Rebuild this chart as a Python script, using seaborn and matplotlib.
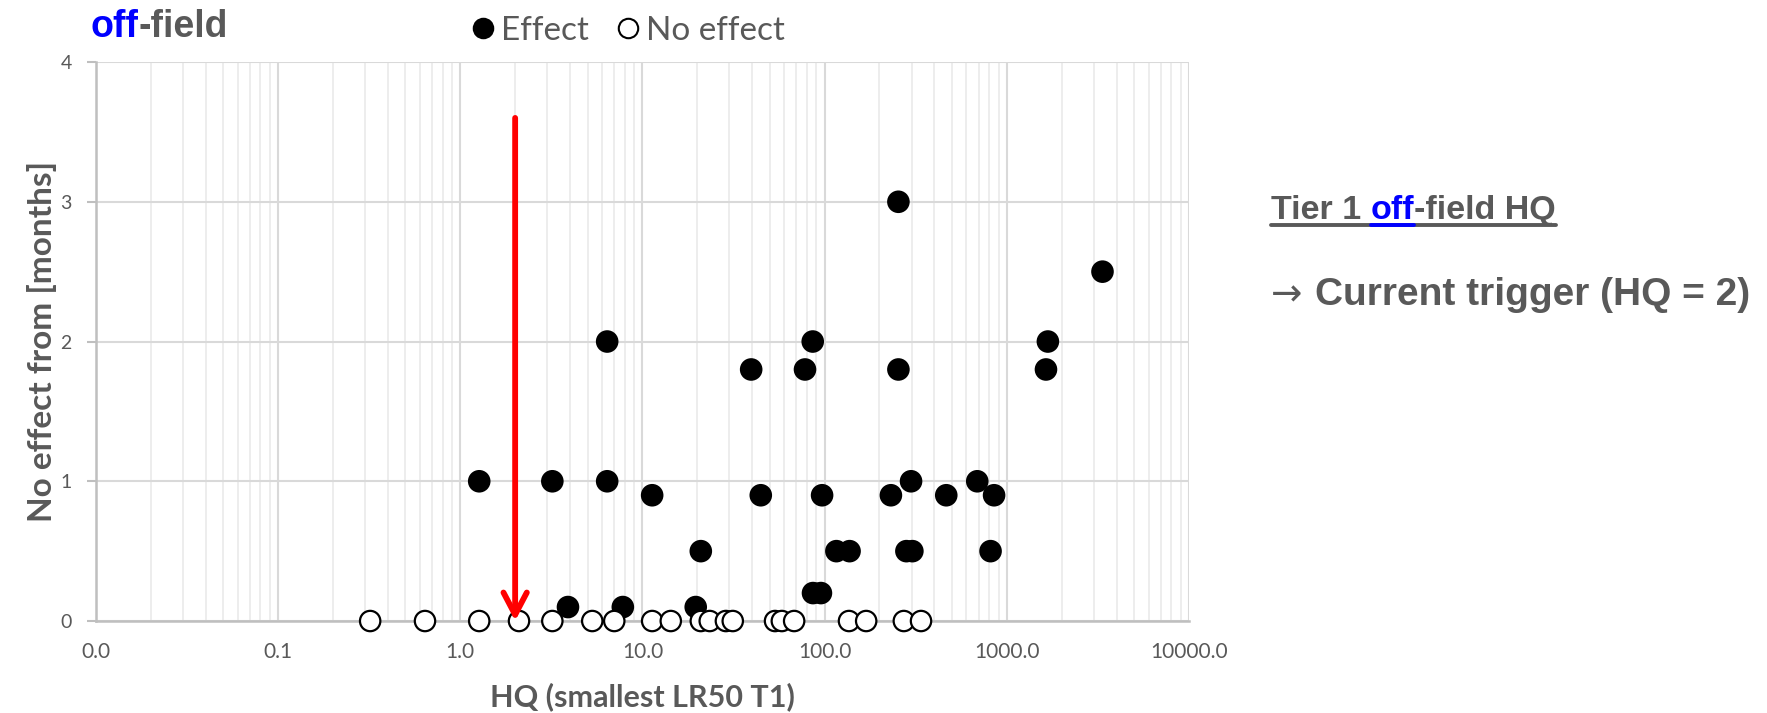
import numpy as np
import pandas as pd
import matplotlib
matplotlib.use('Agg')
import matplotlib.pyplot as plt
import seaborn as sns
from matplotlib.lines import Line2D
from matplotlib.ticker import LogLocator, FixedLocator, FixedFormatter, NullFormatter

# values
effect_hq = [254, 3350, 6.4, 86, 1680, 39.5, 78, 254, 1640,
             1.27, 3.2, 6.4, 298, 688,
             11.3, 44.6, 96.8, 231, 465, 851,
             20.9, 116, 137, 281, 303, 814,
             86.3, 95.4,
             3.9, 7.8, 19.6]
effect_months = [3, 2.5, 2, 2, 2, 1.8, 1.8, 1.8, 1.8,
                 1, 1, 1, 1, 1,
                 0.9, 0.9, 0.9, 0.9, 0.9, 0.9,
                 0.5, 0.5, 0.5, 0.5, 0.5, 0.5,
                 0.2, 0.2,
                 0.1, 0.1, 0.1]
no_effect_hq = [0.32, 0.64, 1.27, 2.1, 3.2, 5.3, 7.0, 11.3, 14.3, 20.9,
                23.4, 28.7, 31.3, 53.4, 58.2, 68, 136, 169, 272, 338]
no_effect_months = [0, 0, 0, 0, 0, 0, 0, 0, 0, 0,
                    0, 0, 0, 0, 0, 0, 0, 0, 0, 0]
x_ticks = [0.01, 0.1, 1, 10, 100, 1000, 10000]
x_tick_labels = ['0.0', '0.1', '1.0', '10.0', '100.0', '1000.0', '10000.0']
y_ticks = [0, 1, 2, 3, 4]
trigger_hq = 2
arrow_top = 3.6

grey = '#595959'
blue = '#0000FF'

sns.set_theme(style='white')
plt.rcParams['font.family'] = ['Lato', 'DejaVu Sans']

df = pd.concat([
    pd.DataFrame({'HQ': effect_hq, 'months': effect_months, 'status': 'Effect'}),
    pd.DataFrame({'HQ': no_effect_hq, 'months': no_effect_months, 'status': 'No effect'}),
], ignore_index=True)

fig = plt.figure(figsize=(17.67, 7.13), dpi=100)
ax = fig.add_axes([0.0543, 0.129, 0.6186, 0.784])

sns.scatterplot(data=df, x='HQ', y='months', hue='status',
                palette={'Effect': 'black', 'No effect': 'white'},
                edgecolor='black', linewidth=1.6, s=215, legend=False,
                ax=ax, clip_on=False, zorder=3)

ax.set_xscale('log')
ax.set_xlim(0.01, 10000)
ax.set_ylim(0, 4)
ax.xaxis.set_major_locator(FixedLocator(x_ticks))
ax.xaxis.set_major_formatter(FixedFormatter(x_tick_labels))
ax.xaxis.set_minor_locator(LogLocator(base=10, subs=np.arange(2, 10), numticks=50))
ax.xaxis.set_minor_formatter(NullFormatter())
ax.set_yticks(y_ticks)

ax.set_axisbelow(True)
ax.grid(which='major', axis='both', color='#d9d9d9', linewidth=1.5)
ax.grid(which='minor', axis='x', color='#ececec', linewidth=1.3)

for side in ['top', 'right']:
    ax.spines[side].set_visible(False)
for side in ['left', 'bottom']:
    ax.spines[side].set_color('#bfbfbf')
    ax.spines[side].set_linewidth(1.8)

ax.tick_params(axis='y', left=True, length=6.5, width=1.5, color='#bfbfbf',
               pad=11, labelsize=14, labelcolor=grey)
ax.tick_params(axis='x', which='both', bottom=False, length=0, pad=15,
               labelsize=15, labelcolor=grey)

ax.set_xlabel('HQ (smallest LR50 T1)', fontsize=22, fontweight='bold', color=grey)
ax.xaxis.set_label_coords(0.5, -0.11)
ax.set_ylabel('No effect from [months]', fontsize=24, fontweight='bold', color=grey)
ax.yaxis.set_label_coords(-0.036, 0.5)

# red trigger arrow
ax.annotate('', xy=(trigger_hq, 0), xytext=(trigger_hq, arrow_top),
            arrowprops=dict(arrowstyle='->, head_length=0.8, head_width=0.42',
                            color='red', lw=4.2, mutation_scale=20,
                            shrinkA=0, shrinkB=0),
            zorder=5, annotation_clip=False)

# title "off-field"
t_off = fig.text(0.051, 0.948, 'off', color=blue, fontsize=27, fontweight='bold',
                 family='Liberation Sans', va='baseline', ha='left')
ax.annotate('-field', xy=(1, 0), xycoords=t_off, va='bottom', ha='left',
            color=grey, fontsize=27, fontweight='bold', family='Liberation Sans')

# legend above the plot
handles = [
    Line2D([], [], marker='o', linestyle='', markersize=14, markerfacecolor='black',
           markeredgecolor='black', markeredgewidth=1.5, label='Effect'),
    Line2D([], [], marker='o', linestyle='', markersize=14, markerfacecolor='white',
           markeredgecolor='black', markeredgewidth=1.5, label='No effect'),
]
fig.legend(handles=handles, loc='center', bbox_to_anchor=(0.355, 0.957), ncol=2,
           frameon=False, fontsize=24, labelcolor=grey, handletextpad=0.12,
           columnspacing=0.8, handlelength=0.8)

# side notes
note_font = dict(fontsize=24.5, fontweight='bold', family='Liberation Sans')
base1 = 1 - 219 / 713
t1 = fig.text(1271 / 1767, base1, 'Tier 1', color=grey, va='baseline', ha='left', **note_font)
t2 = ax.annotate('off', xy=(1, 0), xycoords=t1, xytext=(6.8, 0), textcoords='offset points',
                 va='bottom', ha='left', color=blue, **note_font)
t3 = ax.annotate('-field HQ', xy=(1, 0), xycoords=t2, va='bottom', ha='left',
                 color=grey, **note_font)

base2 = 1 - 305 / 713
fig.text(1271 / 1767, base2, '\u2192', color=grey, fontsize=27, family='DejaVu Sans',
         va='baseline', ha='left')
fig.text(1315 / 1767, base2, 'Current trigger (HQ = 2)', color=grey, va='baseline',
         ha='left', fontsize=28, fontweight='bold', family='Liberation Sans')

# underline under the first note
fig.canvas.draw()
renderer = fig.canvas.get_renderer()
b1 = t1.get_window_extent(renderer)
b2 = t2.get_window_extent(renderer)
b3 = t3.get_window_extent(renderer)
W, H = fig.bbox.width, fig.bbox.height
uy = (base1 * H - 6) / H
fig.add_artist(Line2D([b1.x0 / W, b3.x1 / W], [uy, uy], color=grey, lw=2.8))
fig.add_artist(Line2D([b2.x0 / W, b2.x1 / W], [uy, uy], color=blue, lw=2.8))

fig.savefig('out.png', dpi=100)
